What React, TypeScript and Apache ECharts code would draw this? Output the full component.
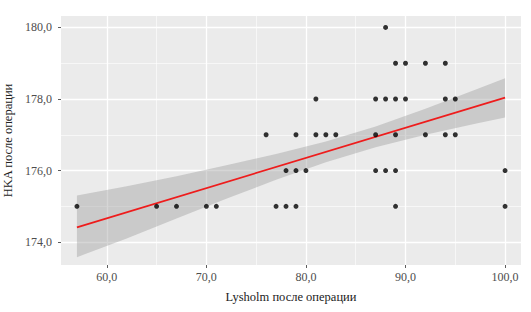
import React, { useEffect, useRef } from "react";
import * as echarts from "echarts";

// Scatter data: Lysholm score (x) vs HKA (y)
const lysholm = [
  88,
  89, 90, 92, 94,
  81, 87, 88, 89, 90, 94, 95,
  76, 79, 81, 82, 83, 87, 89, 92, 94, 95,
  78, 79, 80, 87, 88, 89, 100,
  57, 65, 67, 70, 71, 77, 78, 79, 89, 100,
];
const hka = [
  180,
  179, 179, 179, 179,
  178, 178, 178, 178, 178, 178, 178,
  177, 177, 177, 177, 177, 177, 177, 177, 177, 177,
  176, 176, 176, 176, 176, 176, 176,
  175, 175, 175, 175, 175, 175, 175, 175, 175, 175,
];

// Fitted regression line
const fitX = [57, 100];
const fitY = [174.41, 178.04];

// Confidence band
const bandX = [57, 62, 67, 72, 77, 82, 87, 92, 97, 100];
const bandLower = [173.58, 174.1, 174.66, 175.21, 175.74, 176.23, 176.65, 177.0, 177.31, 177.48];
const bandUpper = [175.3, 175.56, 175.84, 176.15, 176.46, 176.81, 177.23, 177.73, 178.26, 178.58];

// Axis ticks
const xMajor = [60, 70, 80, 90, 100];
const xMinor = [65, 75, 85, 95];
const yMajor = [174, 176, 178, 180];
const yMinor = [175, 177, 179];

const X_MIN = 55.4;
const X_MAX = 101.6;
const Y_MIN = 173.36;
const Y_MAX = 180.32;

const FONT = "'Liberation Serif', 'DejaVu Serif', serif";
const fmt = (v: number) => v.toFixed(1).replace(".", ",");

export default function App() {
  const ref = useRef<HTMLDivElement>(null);

  useEffect(() => {
    if (!ref.current) return;
    const chart = echarts.init(ref.current, undefined, { renderer: "svg" });

    const majorAxis = (isX: boolean) => ({
      type: "value",
      min: isX ? X_MIN : Y_MIN,
      max: isX ? X_MAX : Y_MAX,
      axisLine: { show: false },
      axisTick: {
        show: true,
        customValues: isX ? xMajor : yMajor,
        length: 3,
        lineStyle: { color: "#333333", width: 0.8 },
      },
      axisLabel: {
        customValues: isX ? xMajor : yMajor,
        formatter: fmt,
        fontFamily: FONT,
        fontSize: 12,
        color: "#4d4d4d",
        margin: isX ? 6 : 9,
      },
      splitLine: { show: true, lineStyle: { color: "#ffffff", width: 1.3 } },
      name: isX ? "Lysholm после операции" : "HKA после операции",
      nameLocation: "middle",
      nameGap: isX ? 25 : 45,
      nameTextStyle: { fontFamily: FONT, fontSize: 12.5, color: "#222222" },
    });

    const minorAxis = (isX: boolean) => ({
      type: "value",
      min: isX ? X_MIN : Y_MIN,
      max: isX ? X_MAX : Y_MAX,
      position: isX ? "bottom" : "left",
      axisLine: { show: false },
      axisTick: { show: false, customValues: isX ? xMinor : yMinor },
      axisLabel: { show: false },
      splitLine: { show: true, lineStyle: { color: "#ffffff", width: 0.6 } },
    });

    const polygonPoints = () => {
      const pts: number[][] = [];
      for (let i = 0; i < bandX.length; i++) pts.push([bandX[i], bandUpper[i]]);
      for (let i = bandX.length - 1; i >= 0; i--) pts.push([bandX[i], bandLower[i]]);
      return pts;
    };

    chart.setOption({
      animation: false,
      backgroundColor: "#ffffff",
      grid: {
        left: 61,
        right: 10,
        top: 16,
        bottom: 47,
        outerBoundsMode: "none",
        containLabel: false,
        show: true,
        backgroundColor: "#EBEBEB",
        borderWidth: 0,
      },
      xAxis: [majorAxis(true), minorAxis(true)],
      yAxis: [majorAxis(false), minorAxis(false)],
      series: [
        {
          type: "custom",
          xAxisIndex: 0,
          yAxisIndex: 0,
          data: [0],
          z: 1,
          renderItem: (_params: any, api: any) => {
            const pts = polygonPoints().map((p) => api.coord(p));
            return {
              type: "polygon",
              shape: { points: pts },
              style: { fill: "#999999", opacity: 0.4 },
            };
          },
        },
        {
          type: "line",
          xAxisIndex: 0,
          yAxisIndex: 0,
          data: fitX.map((x, i) => [x, fitY[i]]),
          symbol: "none",
          z: 3,
          lineStyle: { color: "#ee1c1c", width: 1.7 },
        },
        {
          type: "scatter",
          xAxisIndex: 0,
          yAxisIndex: 0,
          data: lysholm.map((x, i) => [x, hka[i]]),
          symbol: "circle",
          symbolSize: 5,
          z: 4,
          itemStyle: { color: "#000000" },
        },
      ],
    });

    return () => chart.dispose();
  }, []);

  return (
    <div
      ref={ref}
      style={{ position: "absolute", left: 0, top: 0, width: 531, height: 312 }}
    />
  );
}
